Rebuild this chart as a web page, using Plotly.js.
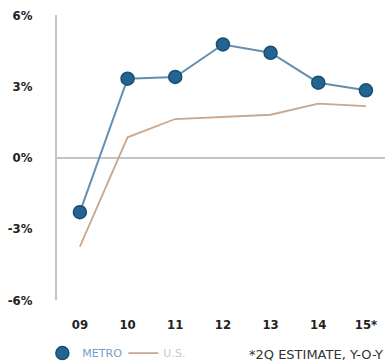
<!DOCTYPE html>
<html><head><meta charset="utf-8">
<script src="https://cdn.plot.ly/plotly-3.0.1.min.js"></script>
<style>html,body{margin:0;padding:0;background:#fff}#c{width:385px;height:364px}</style>
</head><body><div id="c"></div>
<script>
const years = ["09","10","11","12","13","14","15*"];
const metro = [-2.3, 3.32, 3.39, 4.76, 4.41, 3.15, 2.83];
const us = [-3.75, 0.85, 1.62, 1.7, 1.8, 2.27, 2.16];
const yTicks = [-6, -3, 0, 3, 6];
const yTickText = ["-6%", "-3%", "0%", "3%", "6%"];
const xIdx = years.map((_, i) => i);

const tickFont = {family: "Liberation Sans Narrow, DejaVu Sans Condensed, sans-serif", size: 13, color: "#222", weight: 700};

const traces = [
  {x: xIdx, y: metro, type: "scatter", mode: "lines", showlegend: false, hoverinfo: "skip",
   line: {color: "#648fb3", width: 2}},
  {x: xIdx, y: metro, type: "scatter", mode: "markers", name: '<span style="color:#739fca">METRO</span>',
   marker: {size: 13, color: "#236592", line: {color: "#1a4f74", width: 1.5}}},
  {x: xIdx, y: us, type: "scatter", mode: "lines", name: '<span style="color:#d9c6b3">U.S.</span>',
   line: {color: "#c9a78c", width: 1.8}}
];

const layout = {
  width: 385, height: 364,
  margin: {l: 57, r: 0, t: 15, b: 64},
  paper_bgcolor: "#fff", plot_bgcolor: "#fff",
  showlegend: true,
  legend: {orientation: "h", xref: "container", yref: "container", x: 0.11, xanchor: "left",
    y: 0.03, yanchor: "middle",
    traceorder: "normal", font: {family: "DejaVu Sans, sans-serif", size: 11, color: "#6f9cc8"},
    itemwidth: 30, entrywidth: 36, entrywidthmode: "pixels", bgcolor: "rgba(0,0,0,0)"},
  xaxis: {range: [-0.48, 6.4], tickmode: "array", tickvals: xIdx, ticktext: years,
    showgrid: false, zeroline: false, showline: false, ticks: "", ticklabelstandoff: 15,
    tickfont: tickFont, fixedrange: true},
  yaxis: {range: [-6, 6], tickmode: "array", tickvals: yTicks, ticktext: yTickText,
    showgrid: false, zeroline: true, zerolinecolor: "#c4c4c4", zerolinewidth: 2,
    showline: true, linecolor: "#c4c4c4", linewidth: 2, ticks: "", ticklabelstandoff: 20,
    tickfont: tickFont, fixedrange: true},
  annotations: [{text: "*2Q ESTIMATE, Y-O-Y", xref: "paper", yref: "paper", x: 1.0, y: -0.19,
    xanchor: "right", yanchor: "middle", showarrow: false,
    font: {family: "DejaVu Sans, sans-serif", size: 13, color: "#333"}}]
};
Plotly.newPlot("c", traces, layout, {displayModeBar: false, staticPlot: true});
</script></body></html>
